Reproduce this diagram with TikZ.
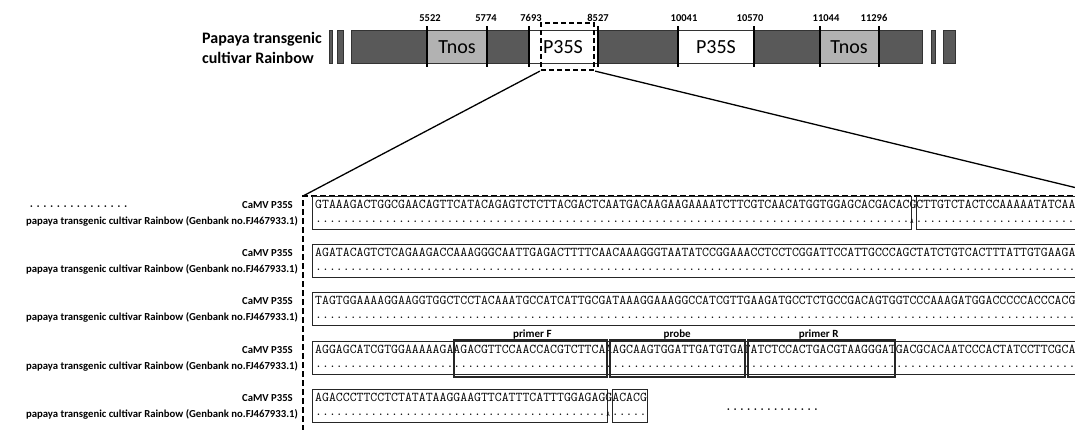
\documentclass[tikz,border=0pt]{standalone}
\usepackage{fontspec}
\setmainfont{Carlito}
\def\dten{..........}
\def\xo{315}
\def\cw{6.9}
\begin{document}
\begin{tikzpicture}[x=1pt,y=-1pt,
  seg/.style={draw=black!80,line width=0.6pt},
  darkseg/.style={seg,fill=black!65},
  lightseg/.style={seg,fill=black!30},
  whiteseg/.style={seg,fill=white},
  tickline/.style={line width=1.6pt},
  ticklab/.style={font=\fontsize{10.5}{12}\selectfont\bfseries,inner sep=0,anchor=base},
  barlab/.style={font=\fontsize{20}{22}\selectfont,inner sep=0},
  seqtxt/.style={font=\ttfamily\fontsize{13.42}{14}\selectfont,inner sep=0,anchor=base west},
  snp/.style={font=\ttfamily\fontsize{7}{8}\selectfont,inner sep=0,anchor=base},
  rowlab/.style={font=\fontsize{10.7}{13}\selectfont\bfseries,inner sep=0,anchor=base east},
  rowbox/.style={draw=black!85,line width=0.7pt},
  primerbox/.style={draw=black!85,line width=2pt},
  primerlab/.style={font=\fontsize{11}{13}\selectfont\bfseries,inner sep=0,anchor=base},
  bigdash/.style={line width=2.2pt,dash pattern=on 6pt off 3pt},
  zoomline/.style={line width=1.3pt},
  ellip/.style={font=\ttfamily\bfseries\fontsize{12.8}{14}\selectfont,inner sep=0,anchor=base west}
]
\clip (0,0) rectangle (1075,429);
\fill[white] (0,0) rectangle (1075,429);

% ---- top construct ----
\node[font=\fontsize{16}{20}\selectfont\bfseries,align=left,anchor=west,inner sep=0] (cult) at (202,48) {Papaya transgenic\\cultivar Rainbow};

\path[darkseg] (329,30) rectangle (332,63);
\path[darkseg] (337,30) rectangle (343,63);
\path[darkseg] (351,30) rectangle (427,63);
\path[lightseg] (427,30) rectangle (487,63);
\path[darkseg] (487,30) rectangle (529,63);
\path[whiteseg] (529,30) rectangle (598,63);
\path[darkseg] (598,30) rectangle (678,63);
\path[whiteseg] (678,30) rectangle (754,63);
\path[darkseg] (754,30) rectangle (820,63);
\path[lightseg] (820,30) rectangle (879,63);
\path[darkseg] (879,30) rectangle (922,63);
\path[darkseg] (931,30) rectangle (935,63);
\path[darkseg] (943,30) rectangle (955,63);

\foreach \x in {427,487,529,598,678,754,820,879} \draw[tickline] (\x,26) -- (\x,67);

\node[ticklab] (t1) at (430,21) {5522};
\node[ticklab] (t2) at (486,21) {5774};
\node[ticklab] (t3) at (531,21) {7693};
\node[ticklab] (t4) at (598,21) {8527};
\node[ticklab] (t5) at (684,21) {10041};
\node[ticklab] (t6) at (750,21) {10570};
\node[ticklab] (t7) at (826,21) {11044};
\node[ticklab] (t8) at (874,21) {11296};

\node[barlab] (tnos1) at (457,47) {Tnos};
\node[barlab] (tnos2) at (849,47) {Tnos};
\node[barlab] (p35a) at (563,47) {P35S};
\node[barlab] (p35b) at (716,47) {P35S};

\node[draw,line width=2.2pt,dash pattern=on 5pt off 3pt,minimum width=53,minimum height=47,inner sep=0] (zsrc) at (567.5,46.5) {};

% ---- zoomed region ----
\coordinate (bigTL) at (303,196);
\coordinate (bigTR) at (1110,196);
\coordinate (bigBL) at (303,440);
\draw[bigdash] (bigBL) -- (bigTL) -- (1100,196);
\draw[zoomline] (zsrc.south west) -- (bigTL);
\draw[zoomline] (zsrc.south east) -- (bigTR);

\node[ellip] (elL) at (28,207) {...............};
\node[ellip] (elR) at (725,410) {..............};

% row labels
\foreach \c/\i in {204/1,252/2,300/3,349/4,397/5}{
  \node[rowlab] (cam\i) at (293,\c+4) {CaMV P35S};
  \node[rowlab] (pap\i) at (298,\c+20) {papaya transgenic cultivar Rainbow (Genbank no.FJ467933.1)};
}

% row 1
\draw[rowbox] (312,196) rectangle ({\xo+86.4*\cw},229);
\draw[rowbox] ({\xo+87.2*\cw},196) rectangle (1090,229);
\node[seqtxt] (s1) at (\xo,208) {GTAAAGACTGGCGAACAGTTCATACAGAGTCTCTTACGACTCAATGACAAGAAGAAAATCTTCGTCAACATGGTGGAGCACGACACGCTTGTCTACTCCAAAAATATCAA};
\node[seqtxt] (d1a) at (\xo,222) {\dten\dten\dten\dten\dten\dten\dten\dten......};
\node[snp] (a1) at ({\xo+86.5*\cw},223) {A};
\node[seqtxt] (d1b) at ({\xo+87*\cw},222) {\dten\dten...};

% row 2
\draw[rowbox] (312,244) rectangle (1090,277);
\node[seqtxt] (s2) at (\xo,256) {AGATACAGTCTCAGAAGACCAAAGGGCAATTGAGACTTTTCAACAAAGGGTAATATCCGGAAACCTCCTCGGATTCCATTGCCCAGCTATCTGTCACTTTATTGTGAAGA};
\node[seqtxt] (d2) at (\xo,270) {\dten\dten\dten\dten\dten\dten\dten\dten\dten\dten\dten};

% row 3
\draw[rowbox] (312,292) rectangle (1090,325);
\node[seqtxt] (s3) at (\xo,304) {TAGTGGAAAAGGAAGGTGGCTCCTACAAATGCCATCATTGCGATAAAGGAAAGGCCATCGTTGAAGATGCCTCTGCCGACAGTGGTCCCAAAGATGGACCCCCACCCACG};
\node[seqtxt] (d3) at (\xo,318) {\dten\dten\dten\dten\dten\dten\dten\dten\dten\dten\dten};

% row 4
\draw[rowbox] (312,341) rectangle (1090,374);
\node[seqtxt] (s4) at (\xo,353) {AGGAGCATCGTGGAAAAAGAAGACGTTCCAACCACGTCTTCAAAGCAAGTGGATTGATGTGATATCTCCACTGACGTAAGGGATGACGCACAATCCCACTATCCTTCGCA};
\node[seqtxt] (d4) at (\xo,367) {\dten\dten\dten\dten\dten\dten\dten\dten\dten\dten\dten};
\draw[primerbox] ({\xo+20.1*\cw},340) rectangle ({\xo+42.3*\cw},377);
\draw[primerbox] ({\xo+42.7*\cw},340) rectangle ({\xo+62.3*\cw},377);
\draw[primerbox] ({\xo+62.7*\cw},340) rectangle ({\xo+84.1*\cw},377);
\node[primerlab] (pf) at ({\xo+31.5*\cw},337) {primer F};
\node[primerlab] (pb) at ({\xo+52.5*\cw},337) {probe};
\node[primerlab] (pr) at ({\xo+73*\cw},337) {primer R};

% row 5
\draw[rowbox] (312,389) rectangle ({\xo+42.4*\cw},422);
\draw[rowbox] ({\xo+43.1*\cw},389) rectangle ({\xo+48*\cw+1},422);
\node[seqtxt] (s5) at (\xo,401) {AGACCCTTCCTCTATATAAGGAAGTTCATTTCATTTGGAGAGGACACG};
\node[seqtxt] (d5a) at (\xo,415) {\dten\dten\dten\dten..};
\node[snp] (a5) at ({\xo+42.5*\cw},416) {A};
\node[seqtxt] (d5b) at ({\xo+43*\cw},415) {.....};
\end{tikzpicture}
\end{document}
